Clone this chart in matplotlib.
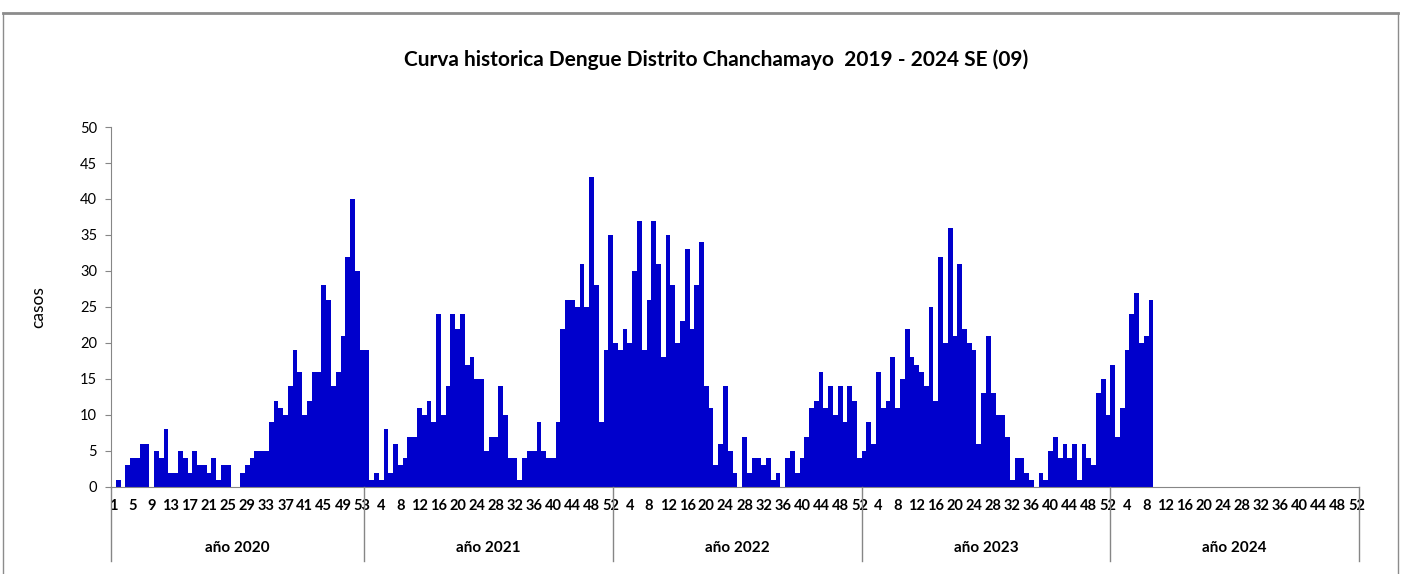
import numpy as np
import matplotlib
import matplotlib.pyplot as plt
import matplotlib.transforms as mtransforms
from matplotlib.lines import Line2D

matplotlib.rc('font', family=['Lato', 'DejaVu Sans'])

# casos por semana epidemiologica (SE)
years = ['2020', '2021', '2022', '2023', '2024']
n_weeks = [53, 52, 52, 52, 52]
c2020 = [0, 1, 0, 3, 4, 4, 6, 6, 0, 5, 4, 8, 2, 2, 5, 4, 2, 5, 3, 3, 2, 4, 1, 3, 3,
         0, 0, 2, 3, 4, 5, 5, 5, 9, 12, 11, 10, 14, 19, 16, 10, 12, 16, 16, 28, 26,
         14, 16, 21, 32, 40, 30, 19]
c2021 = [19, 1, 2, 1, 8, 2, 6, 3, 4, 7, 7, 11, 10, 12, 9, 24, 10, 14, 24, 22, 24, 17,
         18, 15, 15, 5, 7, 7, 14, 10, 4, 4, 1, 4, 5, 5, 9, 5, 4, 4, 9, 22, 26, 26, 25,
         31, 25, 43, 28, 9, 19, 35]
c2022 = [20, 19, 22, 20, 30, 37, 19, 26, 37, 31, 18, 35, 28, 20, 23, 33, 22, 28, 34,
         14, 11, 3, 6, 14, 5, 2, 0, 7, 2, 4, 4, 3, 4, 1, 2, 0, 4, 5, 2, 4, 7, 11, 12,
         16, 11, 14, 10, 14, 9, 14, 12, 4]
c2023 = [5, 9, 6, 16, 11, 12, 18, 11, 15, 22, 18, 17, 16, 14, 25, 12, 32, 20, 36, 21,
         31, 22, 20, 19, 6, 13, 21, 13, 10, 10, 7, 1, 4, 4, 2, 1, 0, 2, 1, 5, 7, 4, 6,
         4, 6, 1, 6, 4, 3, 13, 15, 10]
c2024 = [17, 7, 11, 19, 24, 27, 20, 21, 26]

series = [c2020, c2021, c2022, c2023, c2024]

# build the flat category axis (year, week)
week_labels = []
values = []
for ny, vals in zip(n_weeks, series):
    for w in range(1, ny + 1):
        week_labels.append(str(w))
        values.append(vals[w - 1] if w <= len(vals) else 0)
values = np.array(values)
x = np.arange(len(values))

fig = plt.figure(figsize=(14.05, 5.74), dpi=100)
ax = fig.add_axes([111 / 1405, 87 / 574, 1248 / 1405, 360 / 574])

ax.bar(x, values, width=1.0, color='#0000CC', edgecolor='none')

ax.set_xlim(-0.5, len(values) - 0.5)
ax.set_ylim(0, 50)
ax.set_yticks(np.arange(0, 51, 5))
ax.tick_params(axis='y', length=4, color='#868686', labelsize=10.5, pad=6)

ticks = x[::4]
ax.set_xticks(ticks)
ax.set_xticklabels([week_labels[i] for i in ticks], fontsize=10.5, fontweight='bold')
ax.tick_params(axis='x', length=0, pad=9)

for s in ['top', 'right']:
    ax.spines[s].set_visible(False)
ax.spines['left'].set_color('#868686')
ax.spines['bottom'].set_color('#868686')

# year separators and labels under the week labels
trans = mtransforms.blended_transform_factory(ax.transData, ax.transAxes)
edges = np.concatenate([[0], np.cumsum(n_weeks)]) - 0.5
for e in edges:
    ax.plot([e, e], [0, -0.205], transform=trans, color='#868686', lw=1, clip_on=False)
for i, yr in enumerate(years):
    mid = (edges[i] + edges[i + 1]) / 2
    ax.text(mid, -0.17, 'año ' + yr, transform=trans, ha='center', va='center',
            fontsize=11, fontweight='bold')

ax.set_ylabel('casos', fontsize=12.5, labelpad=24)

fig.text(716 / 1405, 1 - 60 / 574,
         'Curva historica Dengue Distrito Chanchamayo  2019 - 2024 SE (09)',
         ha='center', va='center', fontsize=15, fontweight='bold')

# outer chart frame
top = 1 - 13 / 574
for xs, ys, lw in [([3 / 1405, 1398 / 1405], [top, top], 2),
                   ([3 / 1405, 3 / 1405], [0, top], 1),
                   ([1398 / 1405, 1398 / 1405], [0, top], 1)]:
    fig.add_artist(Line2D(xs, ys, transform=fig.transFigure, color='#8c8c8c', lw=lw))

plt.savefig('out.png', dpi=100)
